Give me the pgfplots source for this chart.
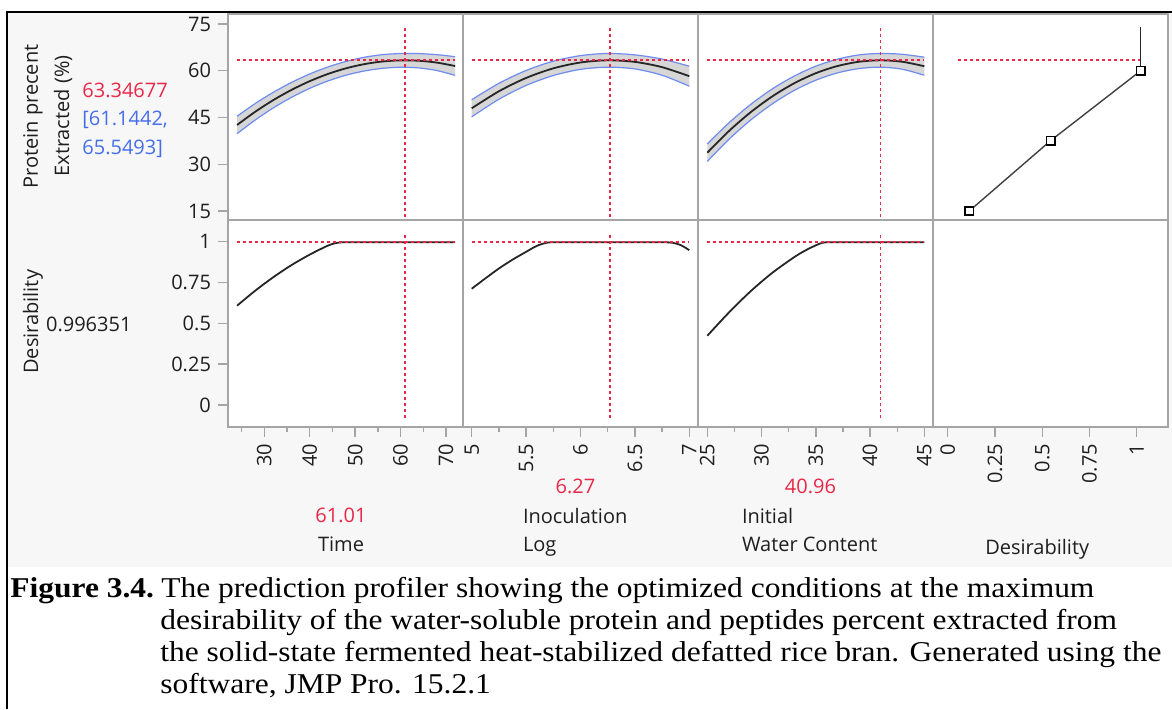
\documentclass[border=0pt]{standalone}
\usepackage{fontspec}
\setmainfont{Open Sans}
\newfontfamily\capfont{Liberation Serif}[FakeStretch=1.097]
\usepackage{pgfplots}
\pgfplotsset{compat=1.18}
\definecolor{jmpred}{RGB}{232,40,72}
\definecolor{jmpblue}{RGB}{70,110,235}
\definecolor{bandedge}{RGB}{110,140,240}
\definecolor{bandfill}{RGB}{214,214,214}
\definecolor{panelgray}{RGB}{165,165,165}
\definecolor{bggray}{RGB}{247,247,247}
\definecolor{jmptext}{RGB}{30,30,30}
\newcommand{\jmpfont}{\fontsize{10}{12}\selectfont}
\pgfplotsset{
  jmp/.style={scale only axis, width=117.5pt, anchor=south west,
    axis background/.style={fill=white},
    axis line style={draw=panelgray, line width=0.7pt},
    tick style={draw=panelgray, line width=0.7pt},
    tick align=outside, major tick length=5pt, minor tick length=2.5pt,
    tick pos=left,
    ticklabel style={font=\jmpfont, text=jmptext},
    /pgf/number format/assume math mode=true,
    xticklabel style={rotate=90, anchor=east},
  },
  row1/.style={height=103pt, ymin=12.11, ymax=78.21, xtick=\empty},
  row2/.style={height=103.5pt, ymin=-0.1347, ymax=1.1329},
  noy/.style={ytick=\empty},
  reddot/.style={jmpred, line width=0.9pt, dash pattern=on 1.5pt off 1.5pt},
  cline/.style={black!85, line width=0.9pt, smooth},
  bedge/.style={bandedge, line width=0.6pt, smooth},
  band/.style={fill=bandfill, draw=none},
}
\begin{document}
\begin{tikzpicture}
\fill[white] (0,0) rectangle (586pt,354.5pt);
\fill[bggray] (4pt,71.15pt) rectangle (586pt,348pt);
\draw[black, line width=1pt] (3.5pt,0pt) -- (3.5pt,348.5pt) -- (586pt,348.5pt);

% ---------- Row 1 ----------
\begin{axis}[jmp, row1, at={(114pt,244.5pt)}, xmin=22.01, xmax=73.74, ytick={15,30,45,60,75}]
\addplot[band] coordinates {(24,45.40) (28,49.49) (32,53.10) (36,56.27) (40,58.96) (44,61.22) (48,62.99) (52,64.32) (56,65.17) (60,65.53) (64,65.51) (68,65.16) (72,64.52) (72,58.52) (68,60.06) (64,60.91) (60,61.13) (56,60.77) (52,59.92) (48,58.59) (44,56.72) (40,54.36) (36,51.47) (32,48.10) (28,44.19) (24,39.80)} -- cycle;
\addplot[bedge] coordinates {(24,45.40) (28,49.49) (32,53.10) (36,56.27) (40,58.96) (44,61.22) (48,62.99) (52,64.32) (56,65.17) (60,65.53) (64,65.51) (68,65.16) (72,64.52)};
\addplot[bedge] coordinates {(24,39.80) (28,44.19) (32,48.10) (36,51.47) (40,54.36) (44,56.72) (48,58.59) (52,59.92) (56,60.77) (60,61.13) (64,60.91) (68,60.06) (72,58.52)};
\addplot[cline] coordinates {(24,42.60) (28,46.84) (32,50.60) (36,53.87) (40,56.66) (44,58.97) (48,60.79) (52,62.12) (56,62.97) (60,63.33) (64,63.21) (68,62.61) (72,61.52)};
\addplot[reddot] coordinates {(24,63.34677) (72,63.34677)};
\addplot[reddot] coordinates {(61.01,73.7) (61.01,12.11)};
\end{axis}

\begin{axis}[jmp, row1, noy, at={(231.5pt,244.5pt)}, xmin=4.92, xmax=7.08]
\addplot[band] coordinates {(5,50.70) (5.25,55.96) (5.5,60.09) (5.75,63.07) (6,64.85) (6.25,65.55) (6.5,65.09) (6.75,63.75) (7,61.46) (7,55.06) (6.75,58.55) (6.5,60.59) (6.25,61.15) (6,60.45) (5.75,58.47) (5.5,55.29) (5.25,50.86) (5,45.20)} -- cycle;
\addplot[bedge] coordinates {(5,50.70) (5.25,55.96) (5.5,60.09) (5.75,63.07) (6,64.85) (6.25,65.55) (6.5,65.09) (6.75,63.75) (7,61.46)};
\addplot[bedge] coordinates {(5,45.20) (5.25,50.86) (5.5,55.29) (5.75,58.47) (6,60.45) (6.25,61.15) (6.5,60.59) (6.75,58.55) (7,55.06)};
\addplot[cline] coordinates {(5,47.95) (5.25,53.41) (5.5,57.69) (5.75,60.77) (6,62.65) (6.25,63.35) (6.5,62.84) (6.75,61.15) (7,58.26)};
\addplot[reddot] coordinates {(5,63.34677) (7,63.34677)};
\addplot[reddot] coordinates {(6.27,73.7) (6.27,12.11)};
\end{axis}

\begin{axis}[jmp, row1, noy, at={(349pt,244.5pt)}, xmin=24.143, xmax=45.80]
\addplot[band] coordinates {(25,36.50) (27,43.32) (29,49.20) (31,54.20) (33,58.27) (35,61.47) (37,63.72) (39,65.10) (41,65.55) (43,65.27) (45,64.35) (45,58.55) (43,60.47) (41,61.15) (39,60.70) (37,59.32) (35,56.97) (33,53.67) (31,49.40) (29,44.20) (27,38.02) (25,30.90)} -- cycle;
\addplot[bedge] coordinates {(25,36.50) (27,43.32) (29,49.20) (31,54.20) (33,58.27) (35,61.47) (37,63.72) (39,65.10) (41,65.55) (43,65.27) (45,64.35)};
\addplot[bedge] coordinates {(25,30.90) (27,38.02) (29,44.20) (31,49.40) (33,53.67) (35,56.97) (37,59.32) (39,60.70) (41,61.15) (43,60.47) (45,58.55)};
\addplot[cline] coordinates {(25,33.70) (27,40.67) (29,46.70) (31,51.80) (33,55.97) (35,59.22) (37,61.52) (39,62.90) (41,63.35) (43,62.87) (45,61.45)};
\addplot[reddot] coordinates {(25,63.34677) (45,63.34677)};
\addplot[reddot] coordinates {(40.96,73.7) (40.96,12.11)};
\end{axis}

\begin{axis}[jmp, row1, noy, at={(466.5pt,244.5pt)}, xmin=-0.0778, xmax=1.1656]
\addplot[reddot] coordinates {(0.056,63.34677) (1.035,63.34677)};
\addplot[black!85, line width=0.8pt] coordinates {(1.021,60) (1.021,74.1)};
\addplot[black!75, line width=0.7pt, mark=square*, mark size=2.1pt, mark options={fill=white, draw=black, line width=0.8pt}] coordinates {(0.114,15) (0.545,37.6) (1.021,60)};
\end{axis}

% ---------- Row 2 ----------
\begin{axis}[jmp, row2, at={(114pt,141pt)}, xmin=22.01, xmax=73.74, ytick={0,0.25,0.5,0.75,1}, xtick={30,40,50,60,70}, minor xtick={25,35,45,55,65}]
\addplot[cline] coordinates {(24,0.608) (28,0.700) (32,0.783) (36,0.857) (40,0.921) (44,0.976) (46,0.993) (48,0.997) (52,0.997) (56,0.997) (60,0.997) (64,0.997) (68,0.997) (72,0.997)};
\addplot[reddot] coordinates {(24,0.996351) (72,0.996351)};
\addplot[reddot] coordinates {(61.01,1.041) (61.01,-0.08)};
\end{axis}

\begin{axis}[jmp, row2, noy, at={(231.5pt,141pt)}, xmin=4.92, xmax=7.08, xtick={5,5.5,6,6.5,7}, minor xtick={5.25,5.75,6.25,6.75}]
\addplot[cline] coordinates {(5,0.712) (5.125,0.775) (5.25,0.836) (5.375,0.890) (5.5,0.938) (5.6,0.975) (5.7,0.995) (5.8,0.997) (6,0.997) (6.27,0.997) (6.5,0.997) (6.75,0.997) (6.85,0.993) (6.925,0.978) (7,0.948)};
\addplot[reddot] coordinates {(5,0.996351) (7,0.996351)};
\addplot[reddot] coordinates {(6.27,1.041) (6.27,-0.08)};
\end{axis}

\begin{axis}[jmp, row2, noy, at={(349pt,141pt)}, xmin=24.143, xmax=45.80, xtick={25,30,35,40,45}, minor xtick={27.5,32.5,37.5,42.5}]
\addplot[cline] coordinates {(25,0.424) (27,0.567) (29,0.697) (31,0.810) (33,0.905) (34,0.945) (35,0.978) (35.6,0.993) (36.2,0.997) (38,0.997) (41,0.997) (43,0.997) (45,0.997)};
\addplot[reddot] coordinates {(25,0.996351) (45,0.996351)};
\addplot[reddot] coordinates {(40.96,1.041) (40.96,-0.08)};
\end{axis}

\begin{axis}[jmp, row2, noy, at={(466.5pt,141pt)}, xmin=-0.0778, xmax=1.1656, xtick={0,0.25,0.5,0.75,1}]
\addplot[draw=none] coordinates {(0,0)};
\end{axis}

% ---------- Text ----------
\begin{scope}[every node/.style={font=\jmpfont, text=jmptext, inner sep=0pt}]
\node[rotate=90] at (16.5pt,296.2pt) {Protein precent};
\node[rotate=90] at (31.5pt,296.5pt) {Extracted (\%)};
\node[anchor=base west, text=jmpred] at (41pt,305.75pt) {63.34677};
\node[anchor=base west, text=jmpblue] at (41pt,291.75pt) {[61.1442,};
\node[anchor=base west, text=jmpblue] at (41pt,277.25pt) {65.5493]};
\node[rotate=90] at (16.5pt,193.6pt) {Desirability};
\node[anchor=base west] at (22.85pt,189pt) {0.996351};
\node[anchor=base, text=jmpred] at (170.5pt,93.15pt) {61.01};
\node[anchor=base] at (170.5pt,78.65pt) {Time};
\node[anchor=base, text=jmpred] at (287.75pt,108pt) {6.27};
\node[anchor=base west] at (261.3pt,92.85pt) {Inoculation};
\node[anchor=base west] at (261.3pt,78.65pt) {Log};
\node[anchor=base, text=jmpred] at (405.2pt,108pt) {40.96};
\node[anchor=base west] at (370.8pt,92.85pt) {Initial};
\node[anchor=base west] at (370.8pt,78.65pt) {Water Content};
\node[anchor=base] at (518.6pt,77.5pt) {Desirability};
\end{scope}

\begin{scope}
\clip (0,0) rectangle (586pt,354.5pt);
\begin{scope}[every node/.style={font=\capfont\fontsize{14.35}{16}\selectfont, text=black, inner sep=0pt, anchor=base west}]
\node at (5pt,56pt) {\bfseries Figure 3.4.};
\node at (80.5pt,56pt) {The prediction profiler showing the optimized conditions at the maximum};
\node at (80pt,40pt) {desirability of the water-soluble protein and peptides percent extracted from};
\node at (80pt,24pt) {the solid-state fermented heat-stabilized defatted rice bran. Generated using the};
\node at (80pt,8pt) {software, JMP Pro. 15.2.1};
\end{scope}
\end{scope}
\pgfresetboundingbox
\useasboundingbox (0,0) rectangle (586pt,354.5pt);
\end{tikzpicture}
\end{document}
